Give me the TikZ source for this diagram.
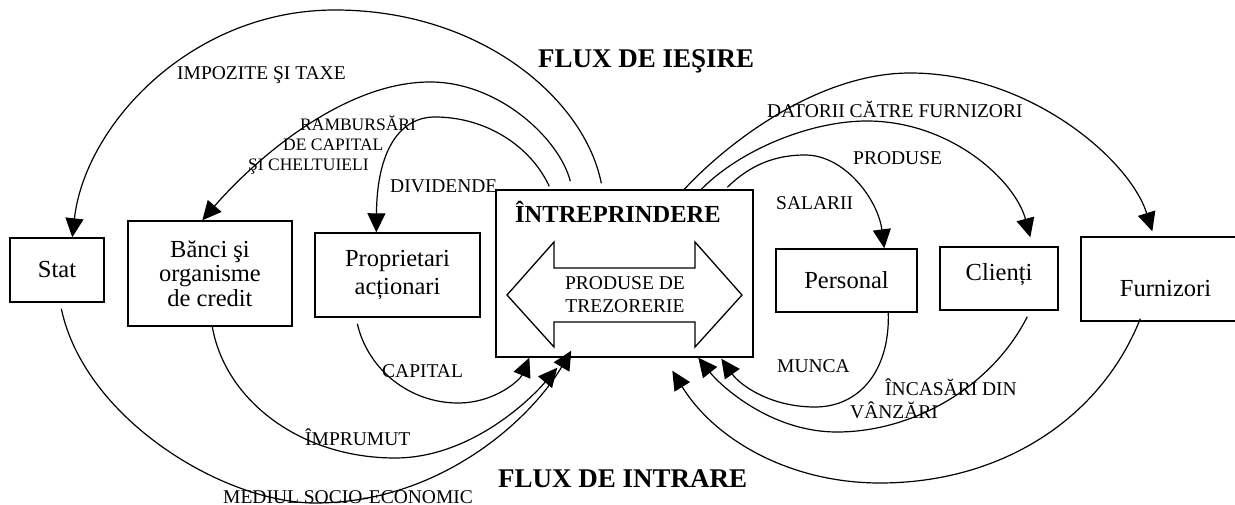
\documentclass[tikz,border=0pt]{standalone}
\usepackage{fontspec}
\setmainfont{Liberation Serif}
\usetikzlibrary{arrows.meta,calc}
\newcommand\myfs[2]{\fontsize{#1}{#2}\selectfont}
\begin{document}
\begin{tikzpicture}[x=1pt,y=-1pt,
  box/.style={draw,line width=1.4pt,inner sep=0pt,font=\myfs{24.5}{24.5}},
  flow/.style={line width=1.2pt,-{Triangle[length=19pt,width=18pt]}},
  lbl/.style={anchor=base west,inner sep=0pt,font=\myfs{19.5}{19.5}},
  small/.style={anchor=base west,inner sep=0pt,font=\myfs{17.5}{17.5}},
  ttl/.style={anchor=base west,inner sep=0pt,font=\bfseries\myfs{27}{27}}]
\useasboundingbox (0,0) rectangle (1235,505);

% boxes
\node[box,minimum width=94pt,minimum height=64pt] (stat) at (57,270) {Stat};
\node[box,align=center,minimum width=164pt,minimum height=105pt] (banci) at (210,273.5) {Bănci şi\\organisme\\de credit};
\node[box,align=center,minimum width=165pt,minimum height=84pt,font=\myfs{24.5}{28}] (prop) at (397.5,275) {Proprietari\\acționari};
\node[draw,line width=1.4pt,minimum width=257pt,minimum height=167pt,inner sep=0pt] (ent) at (624.5,273.5) {};
\node[box,minimum width=141pt,minimum height=63pt] (pers) at (846.5,280.5) {Personal};
\node[box,minimum width=118pt,minimum height=63pt,text height=17pt,text depth=14pt] (cli) at (999,278.5) {Clienți};
\node[box,minimum width=169pt,minimum height=84pt,text height=36pt,text depth=0pt] (furn) at (1165.5,279) {Furnizori};

% inside the enterprise box
\node[anchor=base west,inner sep=0pt,font=\bfseries\myfs{24.5}{24.5}] (enttitle) at (515,223) {ÎNTREPRINDERE};
\draw[line width=1.3pt,line join=miter] (507,295) -- (554,242) -- (554,268) -- (695,268) -- (695,242) -- (742,295) -- (695,347) -- (695,322) -- (554,322) -- (554,347) -- cycle;
\node[font=\myfs{19.5}{23},align=center,inner sep=0pt] (tres) at (625,295) {PRODUSE DE\\TREZORERIE};

% titles
\node[ttl] (fluxout) at (538,68) {FLUX DE IEŞIRE};
\node[ttl] (fluxin) at (498,487) {FLUX DE INTRARE};

% outgoing flows (top)
\draw[flow] ($(ent.north west)+(106,-6)$) .. controls (585,100) and (482,10) .. (335,10)
  .. controls (191,10) and (85,125) .. ($(stat.north west)+(63,0)$);
\draw[flow] ($(ent.north west)+(75,-8)$) .. controls (560,140) and (500,82) .. (430,82)
  .. controls (340,82) and (250,165) .. ($(banci.north west)+(75,0)$);
\draw[flow] ($(ent.north west)+(54,-3)$) .. controls (530,145) and (485,117) .. (435,117)
  .. controls (400,117) and (377,150) .. ($(prop.north west)+(62,0)$);
\draw[flow] ($(ent.north west)+(189,0)$) .. controls (730,140) and (820,73) .. (910,73)
  .. controls (1030,73) and (1130,160) .. ($(furn.north west)+(72,-5)$);
\draw[flow] ($(ent.north west)+(206,0)$) .. controls (740,150) and (810,121) .. (867,121)
  .. controls (950,121) and (1015,180) .. ($(cli.north west)+(91,-9)$);
\draw[flow] ($(ent.north west)+(232,-2)$) .. controls (750,165) and (775,155) .. (805,155)
  .. controls (845,155) and (878,200) .. ($(pers.north west)+(109,0)$);

% incoming flows (bottom)
\draw[flow] ($(prop.south west)+(43,6)$) .. controls (368,370) and (410,403) .. (458,403)
  .. controls (495,403) and (520,380) .. ($(ent.south west)+(34,0)$);
\draw[flow] ($(banci.south west)+(85,0)$) .. controls (225,400) and (300,458) .. (395,458)
  .. controls (470,458) and (530,400) .. ($(ent.south west)+(62,10)$);
\draw[flow] ($(stat.south west)+(52,6)$) .. controls (85,420) and (225,503) .. (315,503)
  .. controls (440,503) and (530,420) .. ($(ent.south west)+(76,-7)$);
\draw[flow] ($(pers.south west)+(113,0)$) .. controls (890,370) and (860,407) .. (815,407)
  .. controls (770,407) and (740,385) .. ($(ent.south west)+(226,1)$);
\draw[flow] ($(cli.south west)+(88,6)$) .. controls (990,390) and (910,432) .. (837,432)
  .. controls (770,432) and (720,385) .. ($(ent.south west)+(203,0)$);
\draw[flow] ($(furn.south west)+(60,-3)$) .. controls (1100,420) and (1000,483) .. (880,483)
  .. controls (790,483) and (715,440) .. ($(ent.south west)+(177,13)$);

% labels
\node[lbl] (limp) at (177,80) {IMPOZITE ŞI TAXE};
\node[small] (lramb1) at (300,131) {RAMBURSĂRI};
\node[small] (lramb2) at (283,151) {DE CAPITAL};
\node[small] (lramb3) at (248,171) {ŞI CHELTUIELI};
\node[lbl] (ldiv) at (390,193) {DIVIDENDE};
\node[lbl] (ldat) at (767,118) {DATORII CĂTRE FURNIZORI};
\node[lbl] (lprod) at (853,165) {PRODUSE};
\node[lbl] (lsal) at (776,210) {SALARII};
\node[lbl] (lcap) at (382,377) {CAPITAL};
\node[lbl] (limpr) at (305,445) {ÎMPRUMUT};
\node[lbl] (lmed) at (223,503) {MEDIUL SOCIO-ECONOMIC};
\node[lbl] (lmun) at (777,372) {MUNCA};
\node[lbl] (linc1) at (885,395) {ÎNCASĂRI DIN};
\node[lbl] (linc2) at (850,418) {VÂNZĂRI};
\end{tikzpicture}
\end{document}
